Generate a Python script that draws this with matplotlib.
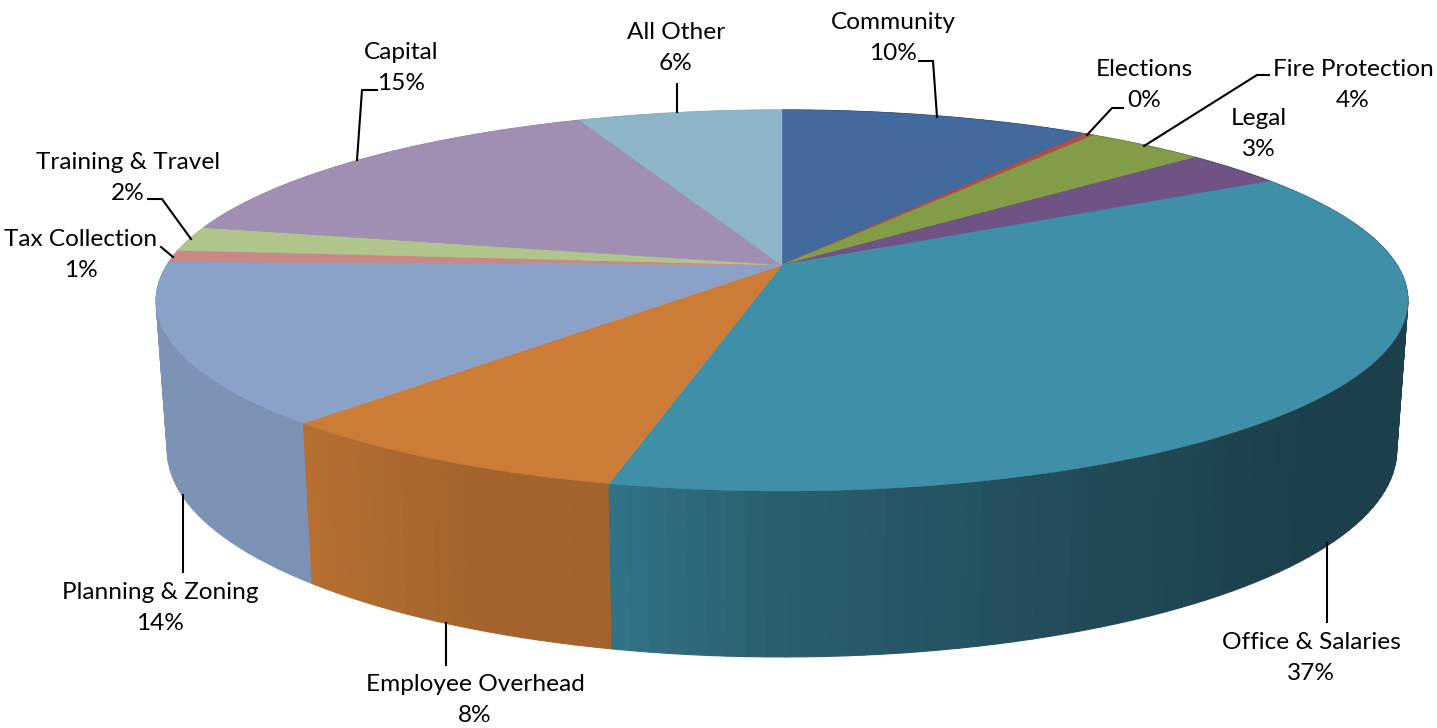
import numpy as np
import matplotlib
matplotlib.use("Agg")
import matplotlib.pyplot as plt
from matplotlib.collections import PolyCollection
from matplotlib.colors import to_rgb

# Budget shares in percent, clockwise from twelve o'clock
categories = ["Community", "Elections", "Fire Protection", "Legal", "Office & Salaries",
              "Employee Overhead", "Planning & Zoning", "Tax Collection",
              "Training & Travel", "Capital", "All Other"]
shares = [9.6, 0.3, 3.7, 3.1, 37.0, 8.0, 13.6, 1.0, 2.1, 15.3, 6.3]
colors = ["#426a9d", "#b04e4a", "#829c48", "#6e5384", "#3f8fa8", "#cc7c37",
          "#8aa2c8", "#c98885", "#b0c58c", "#a08fb2", "#8cb6c8"]

# Perspective disc geometry (pixel-based axes)
CX, APEX_TOP, APEX_BOTTOM = 782.0, 265.0, 412.0
RX, RY_TOP, RY_BOTTOM, TILT = 615.0, 183.9, 199.4, 0.186
BOTTOM_SCALE = 0.982

# Label centres and leader-line routes
label_pos = {
    "Community": (893, 38), "Elections": (1144, 85), "Fire Protection": (1353, 85),
    "Legal": (1259, 134), "Office & Salaries": (1311, 658),
    "Employee Overhead": (475, 700), "Planning & Zoning": (160, 608),
    "Tax Collection": (81, 255), "Training & Travel": (128, 178),
    "Capital": (401, 68), "All Other": (676, 48),
}
leaders = [
    [(919, 61), (933, 61), (937, 117)],
    [(1123, 108), (1112, 108), (1087, 135)],
    [(1269, 75), (1257, 75), (1144, 146)],
    [(377, 90), (362, 90), (357, 160)],
    [(148, 199), (162, 199), (191, 239)],
    [(161, 247), (173, 257)],
    [(183, 495), (183, 572)],
    [(446, 623), (446, 665)],
    [(1327, 543), (1327, 622)],
    [(677, 84), (677, 112)],
]


def project(theta, bottom=False):
    """Map a clockwise disc angle (radians from the top) to canvas pixels."""
    s, c = np.sin(theta), np.cos(theta)
    w = 1 + TILT * c
    if bottom:
        return CX + BOTTOM_SCALE * RX * s / w, APEX_BOTTOM - RY_BOTTOM * c / w
    return CX + RX * s / w, APEX_TOP - RY_TOP * c / w


def side_shade(theta):
    """Brightness of the rim: light on the left, darkest towards the right."""
    deg = np.degrees(theta) % 360
    return np.interp(deg, [0, 90, 135, 155, 180, 193, 205, 223, 270, 360],
                     [0.44, 0.44, 0.45, 0.52, 0.66, 0.80, 0.81, 0.90, 0.91, 0.91])


fig = plt.figure(figsize=(14.37, 7.28), dpi=100)
ax = fig.add_axes([0, 0, 1, 1])
ax.set_xlim(0, 1437)
ax.set_ylim(728, 0)
ax.axis("off")

edges = np.radians(np.cumsum([0] + shares) * 3.6)

# Rim, built from narrow quads and painted back to front
quads, quad_colors, depth = [], [], []
for start, stop, col in zip(edges[:-1], edges[1:], colors):
    n = max(2, int(np.degrees(stop - start) / 1.5))
    ticks = np.linspace(start, stop, n + 1)
    base = np.array(to_rgb(col))
    for a, b in zip(ticks[:-1], ticks[1:]):
        xa, ya = project(a)
        xb, yb = project(b)
        xa2, ya2 = project(a, True)
        xb2, yb2 = project(b, True)
        mid = (a + b) / 2
        quads.append([(xa, ya), (xb, yb), (xb2, yb2), (xa2, ya2)])
        quad_colors.append(np.clip(base * side_shade(mid), 0, 1))
        depth.append(np.cos(mid))
order = np.argsort(depth)[::-1]
fc = [quad_colors[i] for i in order]
ax.add_collection(PolyCollection([quads[i] for i in order], facecolors=fc,
                                 edgecolors=fc, linewidths=0.8, zorder=1))

# Top face
for start, stop, col in zip(edges[:-1], edges[1:], colors):
    arc = np.linspace(start, stop, max(3, int(np.degrees(stop - start) * 2)))
    xs, ys = project(arc)
    ax.fill(np.r_[CX, xs], np.r_[APEX_TOP, ys], facecolor=col, edgecolor=col,
            linewidth=0.4, zorder=2)

# Leader lines
for route in leaders:
    xs, ys = zip(*route)
    ax.plot(xs, ys, color="black", lw=1.5, solid_joinstyle="miter", zorder=3)

# Category name with its rounded share underneath
for name, value in zip(categories, shares):
    x, y = label_pos[name]
    ax.text(x, y, f"{name}\n{value:.0f}%", ha="center", va="center", family="Lato",
            fontsize=17.6, linespacing=1.56, color="black", zorder=4)

fig.savefig("out.png", dpi=100, facecolor="white")
